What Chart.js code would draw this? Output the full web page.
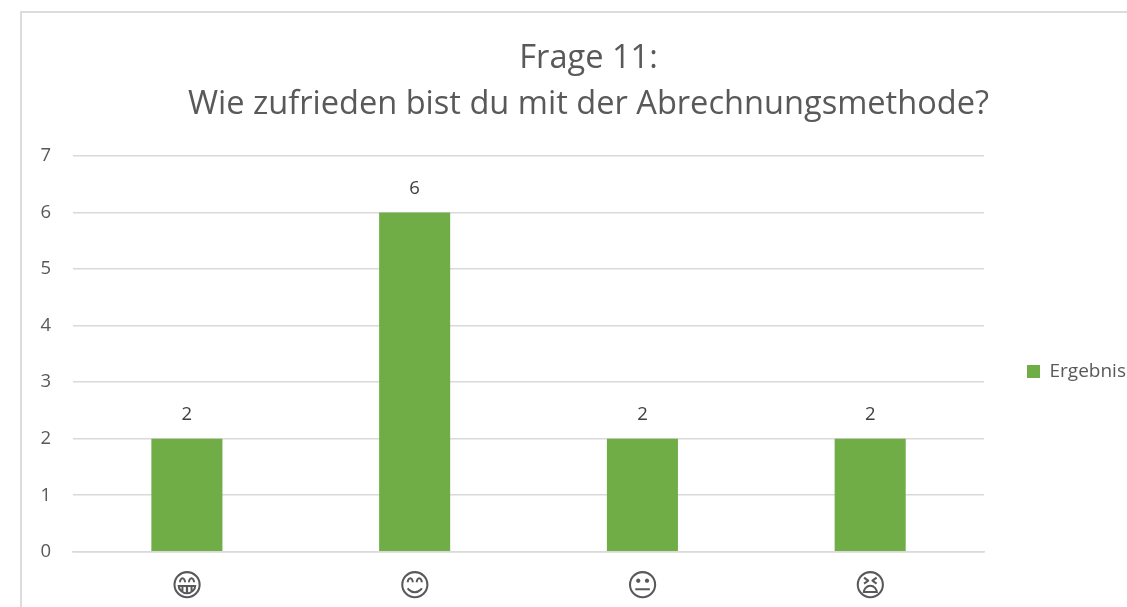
<!DOCTYPE html>
<html><head><meta charset="utf-8">
<style>
html,body{margin:0;padding:0;background:#fff;overflow:hidden;width:1127px;height:607px}
#frame{position:absolute;left:20px;top:11px;width:1140px;height:620px;border-left:2px solid #dcdcdc;border-top:2px solid #dcdcdc}
</style>
<script src="https://cdn.jsdelivr.net/npm/chart.js@4/dist/chart.umd.min.js"></script>
</head><body>
<div id="frame"></div>
<canvas id="c" width="1176" height="617" style="position:absolute;left:0;top:0;width:1176px;height:617px"></canvas>
<script>
const categories=["😁","😊","😐","😫"];
const seriesName="Ergebnis";
const values=[2,6,2,2];
const titleLines=["Frage 11:","Wie zufrieden bist du mit der Abrechnungsmethode?"];
const yMax=7;

const dataLabels={id:'dataLabels',afterDatasetsDraw(chart){
  const {ctx}=chart;const meta=chart.getDatasetMeta(0);
  ctx.save();ctx.font='18.5px "Open Sans"';ctx.fillStyle='#404040';ctx.textAlign='center';ctx.textBaseline='bottom';
  meta.data.forEach((b,i)=>ctx.fillText(String(values[i]),b.x,b.y-15));
  ctx.restore();
}};
const placeBlocks={id:'placeBlocks',afterLayout(chart){
  const l=chart.legend;
  l.left=1017;l.right=1176;
  l.top+=45;l.bottom+=45;
  const t=chart.titleBlock;
  t.left+=37;t.right+=37;
}};
new Chart(document.getElementById('c'),{
 type:'bar',
 data:{labels:categories,datasets:[{label:seriesName,data:values,backgroundColor:'#70ad47',categoryPercentage:1,barPercentage:0.312}]},
 plugins:[dataLabels,placeBlocks],
 options:{
  responsive:false,animation:false,
  layout:{padding:{left:0,top:36,right:73,bottom:0}},
  plugins:{
   tooltip:{enabled:false},
   title:{display:true,text:titleLines,font:{family:'"Open Sans"',size:32.6,weight:'normal',lineHeight:1.41},color:'#595959',padding:{top:0,bottom:28}},
   legend:{position:'right',labels:{boxWidth:13,boxHeight:13,padding:10,color:'#595959',font:{family:'"Open Sans"',size:19}}}
  },
  scales:{
   x:{grid:{display:false},border:{color:'#d9d9d9',width:1.5},ticks:{color:'#595959',padding:10,font:{family:'"DejaVu Sans"',size:31}}},
   y:{min:0,max:yMax,afterFit(s){s.width=73},grid:{color:'#d9d9d9',lineWidth:1.5,drawTicks:false},border:{display:false},
      ticks:{stepSize:1,color:'#595959',padding:22,font:{family:'"Open Sans"',size:18.5}}}
  }
 }
});
</script>
</body></html>
